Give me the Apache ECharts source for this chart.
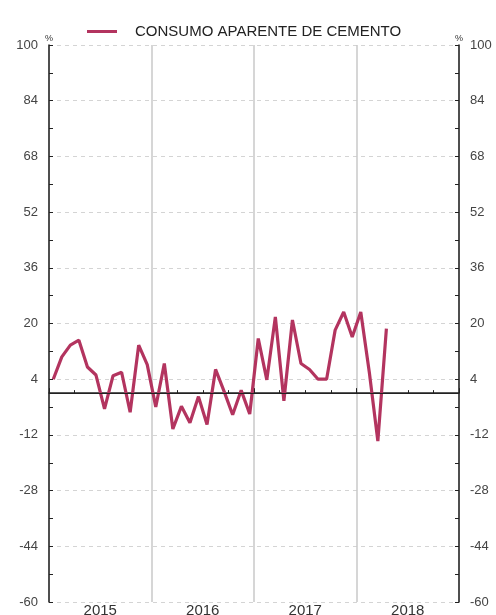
<!DOCTYPE html>
<html>
<head>
<meta charset="utf-8">
<script src="https://cdn.jsdelivr.net/npm/echarts@6/dist/echarts.min.js"></script>
<style>
  html, body { margin: 0; padding: 0; background: #fff; }
  #chart { width: 496px; height: 615px; }
</style>
</head>
<body>
<div id="chart"></div>
<script>
// monthly points, Jan 2015 .. Apr 2018 (rest of 2018 empty)
const years = ['2015', '2016', '2017', '2018']
const months = []
years.forEach((y) => {
  for (let m = 1; m <= 12; m++) months.push(y + '-' + m)
})
const consumo = [
  4, 10.4, 13.8, 15.2, 7.5, 5.2, -4.5, 5, 6, -5.5, 13.8, 8.2,
  -4, 8.5, -10.3, -3.8, -8.5, -1, -9, 6.8, 0.5, -6.2, 0.8, -6,
  15.7, 3.8, 21.9, -2.2, 21, 8.5, 6.8, 4, 4, 18.1, 23.3, 16.1,
  23.3, 6, -13.8, 18.5,
]
const yMin = -60
const yMax = 100
const yStep = 16

const font = 'Liberation Sans, Arial, sans-serif'
const lineColor = '#b3345f'
const chart = echarts.init(document.getElementById('chart'))

const yAxisBase = (position) => ({
  type: 'value',
  position,
  min: yMin,
  max: yMax,
  interval: yStep,
  name: '%',
  nameLocation: 'end',
  nameGap: 2,
  nameTextStyle: { fontSize: 9, color: '#333', fontFamily: font },
  axisLine: { show: true, lineStyle: { color: '#222', width: 1.5 } },
  axisTick: { show: true, inside: true, length: 4, lineStyle: { color: '#222' } },
  minorTick: { show: true, splitNumber: 2, length: 4, lineStyle: { color: '#222' } },
  axisLabel: { color: '#444', fontSize: 13, fontFamily: font, margin: 11 },
  splitLine: {
    show: position === 'left',
    lineStyle: { color: '#d4d4d4', type: [4, 4], width: 1 },
  },
})

chart.setOption({
  animation: false,
  legend: {
    top: 19,
    left: 82,
    itemWidth: 30,
    itemHeight: 3,
    icon: 'rect',
    textStyle: { fontSize: 15, color: '#222', fontFamily: font, padding: [0, 0, 0, 13] },
    data: [{ name: 'CONSUMO APARENTE DE CEMENTO', itemStyle: { color: lineColor } }],
  },
  grid: { left: 49, right: 37, top: 45, bottom: 13, outerBoundsMode: 'none', containLabel: false },
  xAxis: [
    {
      type: 'category',
      data: months,
      boundaryGap: true,
      axisLine: { show: true, lineStyle: { color: '#222', width: 1.5 } },
      axisTick: { show: true, inside: true, interval: 2, length: 3, lineStyle: { color: '#222' } },
      axisLabel: { show: false },
      splitLine: { show: false },
    },
    {
      type: 'category',
      data: years,
      position: 'bottom',
      boundaryGap: true,
      axisLine: { show: false },
      axisTick: { show: true, inside: true, length: 5, lineStyle: { color: '#222' } },
      axisLabel: { color: '#333', fontSize: 15, fontFamily: font, margin: 1 },
      splitLine: { show: true, lineStyle: { color: '#c8c8c8', width: 1.5 } },
    },
  ],
  yAxis: [yAxisBase('left'), yAxisBase('right')],
  series: [
    {
      name: 'CONSUMO APARENTE DE CEMENTO',
      type: 'line',
      xAxisIndex: 0,
      yAxisIndex: 0,
      data: consumo,
      symbol: 'none',
      lineStyle: { color: lineColor, width: 3.2 },
      itemStyle: { color: lineColor },
      markLine: {
        silent: true,
        symbol: 'none',
        label: { show: false },
        lineStyle: { color: '#222', width: 1, type: 'solid' },
        data: [{ yAxis: 0 }],
      },
    },
  ],
})
</script>
</body>
</html>
